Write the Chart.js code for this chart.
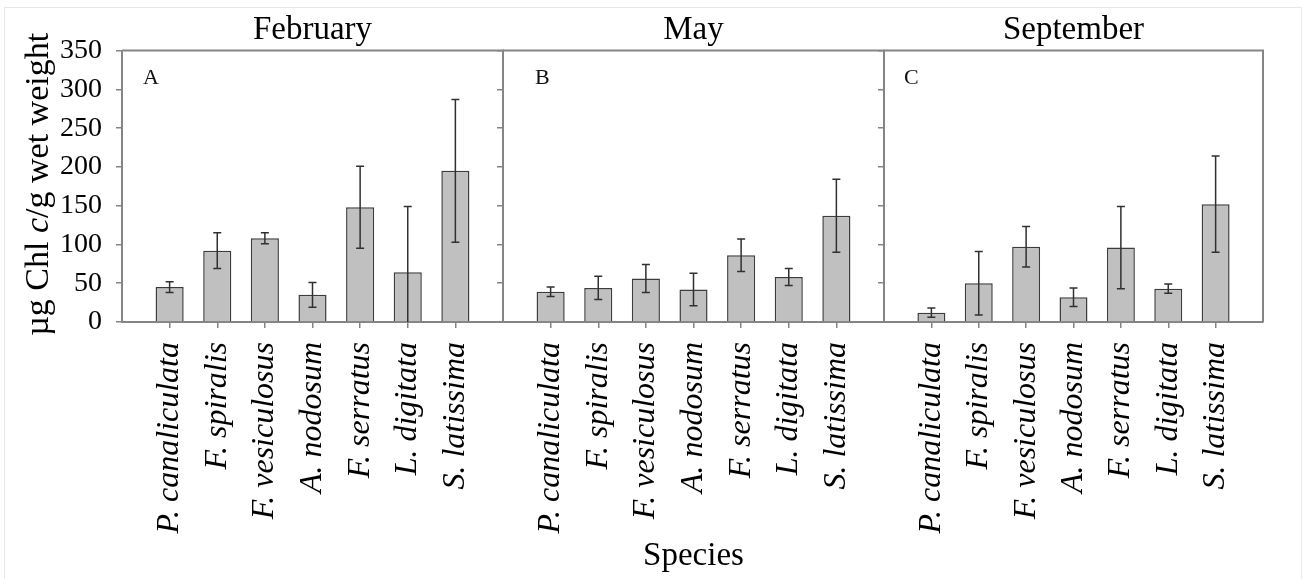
<!DOCTYPE html>
<html>
<head>
<meta charset="utf-8">
<script src="https://cdn.jsdelivr.net/npm/chart.js@4"></script>
<style>
  html, body { margin: 0; padding: 0; background: #fff; }
  #wrap { position: relative; width: 1303px; height: 579px; overflow: hidden; }
  #wrap canvas { position: absolute; left: 0; top: 0; }
  #frame { position: absolute; left: 4px; top: 7px; width: 1296px; height: 600px; border: 1px solid #e8e8e8; }
</style>
</head>
<body>
<div id="wrap">
  <div id="frame"></div>
  <canvas id="febChart" width="1303" height="579"></canvas>
  <canvas id="mayChart" width="1303" height="579"></canvas>
  <canvas id="sepChart" width="1303" height="579"></canvas>
</div>
<script>
// Chl c per species, three sampling months (mean ± sd)
const SPECIES = ['P. canaliculata', 'F. spiralis', 'F. vesiculosus', 'A. nodosum', 'F. serratus', 'L. digitata', 'S. latissima']

const FEB_MEAN = [45, 92, 108, 35, 148, 64, 195]
const FEB_SD = [7, 23, 7, 16, 53, 85, 92]

const MAY_MEAN = [39, 44, 56, 42, 86, 58, 137]
const MAY_SD = [6, 15, 18, 21, 21, 11, 47]

const SEP_MEAN = [12, 50, 97, 32, 96, 43, 152]
const SEP_SD = [6, 41, 26, 12, 53, 6, 62]

const Y_TICKS = [0, 50, 100, 150, 200, 250, 300, 350]

const SERIF = '"Liberation Serif", "Times New Roman", serif'
const AXIS = '#858585'
const BAR_FILL = '#c0c0c0'
const BAR_EDGE = '#3c3c3c'

// ── plugins ────────────────────────────────────────────────────────────────

const errorBars = {
  id: 'errorBars',
  afterDatasetsDraw(chart, args, opts) {
    const { ctx, chartArea } = chart
    const y = chart.scales.y
    const meta = chart.getDatasetMeta(0)
    ctx.save()
    ctx.strokeStyle = '#303030'
    ctx.lineWidth = 1.5
    opts.mean.forEach((m, i) => {
      const x = meta.data[i + 1].x
      const hi = y.getPixelForValue(m + opts.sd[i])
      const rawLo = y.getPixelForValue(m - opts.sd[i])
      const lo = Math.min(rawLo, chartArea.bottom)
      ctx.beginPath()
      ctx.moveTo(x, hi); ctx.lineTo(x, lo)
      ctx.moveTo(x - 4, hi); ctx.lineTo(x + 4, hi)
      if (rawLo <= chartArea.bottom) { ctx.moveTo(x - 4, lo); ctx.lineTo(x + 4, lo) }
      ctx.stroke()
    })
    ctx.restore()
  }
}

// top and right edges of each panel plus the panel letter
const panelFrame = {
  id: 'panelFrame',
  afterDraw(chart, args, opts) {
    const { ctx, chartArea: a } = chart
    ctx.save()
    ctx.strokeStyle = AXIS
    ctx.lineWidth = 2
    ctx.beginPath()
    ctx.moveTo(a.left, a.top); ctx.lineTo(a.right, a.top); ctx.lineTo(a.right, a.bottom)
    ctx.stroke()
    ctx.fillStyle = '#111'
    ctx.font = '22px ' + SERIF
    ctx.textBaseline = 'alphabetic'
    ctx.fillText(opts.letter, a.left + opts.dx, a.top + 33)
    ctx.restore()
  }
}

// rotated y title with an italic "c"
const yTitle = {
  id: 'yTitle',
  afterDraw(chart, args, opts) {
    if (!opts.parts) return
    const { ctx, chartArea: a } = chart
    const fonts = opts.parts.map(p => (p.italic ? 'italic ' : '') + '34px ' + SERIF)
    ctx.save()
    let total = 0
    const widths = opts.parts.map((p, i) => { ctx.font = fonts[i]; const w = ctx.measureText(p.text).width; total += w; return w })
    ctx.translate(48, (a.top + a.bottom) / 2 - 2)
    ctx.rotate(-Math.PI / 2)
    ctx.fillStyle = '#000'
    ctx.textBaseline = 'alphabetic'
    let x = -total / 2
    opts.parts.forEach((p, i) => {
      ctx.font = fonts[i]
      ctx.fillText(p.text, x, 0)
      x += widths[i]
    })
    ctx.restore()
  }
}

// ── panels ─────────────────────────────────────────────────────────────────

function makePanel(id, cfg) {
  const labels = ['', ...SPECIES, '']
  const edge = c => c.index === 0 || c.index === labels.length - 1
  return new Chart(document.getElementById(id), {
    type: 'bar',
    data: {
      labels,
      datasets: [{
        data: [null, ...cfg.mean, null],
        backgroundColor: BAR_FILL,
        borderColor: BAR_EDGE,
        borderWidth: 1.5,
        barPercentage: 0.59,
        categoryPercentage: 1,
      }]
    },
    plugins: [errorBars, panelFrame, yTitle],
    options: {
      responsive: false,
      animation: false,
      devicePixelRatio: 1,
      layout: { padding: { left: cfg.padLeft, right: cfg.padRight, top: 0, bottom: 0 } },
      plugins: {
        legend: { display: false },
        tooltip: { enabled: false },
        title: {
          display: true, text: cfg.month, fullSize: false, color: '#000',
          font: { family: SERIF, size: 33, weight: 'normal', lineHeight: 1.2 },
          padding: { top: 11, bottom: 0 },
        },
        errorBars: { mean: cfg.mean, sd: cfg.sd },
        panelFrame: { letter: cfg.letter, dx: cfg.letterDx },
        yTitle: { parts: cfg.yTitle },
      },
      scales: {
        x: {
          type: 'category',
          offset: false,
          grid: { offset: false, drawOnChartArea: false, tickLength: 6, lineWidth: 1.5, color: c => edge(c) ? 'rgba(0,0,0,0)' : AXIS },
          border: { color: AXIS, width: 2 },
          ticks: {
            autoSkip: false, minRotation: 90, maxRotation: 90, padding: 14, color: '#000',
            font: { family: SERIF, size: 32, style: 'italic' },
          },
          title: {
            display: !!cfg.xTitle, text: cfg.xTitle || '', color: '#000',
            font: { family: SERIF, size: 33 }, padding: { top: 0, bottom: 3 },
          },
          afterFit: s => { s.height = 257; s.paddingLeft = 0; s.paddingRight = 0 },
        },
        y: {
          min: 0, max: 350,
          afterBuildTicks: s => { s.ticks = Y_TICKS.map(v => ({ value: v })) },
          grid: { drawOnChartArea: false, tickLength: 6, lineWidth: 1.5, color: AXIS },
          border: { color: AXIS, width: 2 },
          ticks: {
            display: cfg.showYLabels, padding: 14, color: '#000',
            font: { family: SERIF, size: 28 },
          },
          afterFit: s => { s.width = cfg.axisWidth },
        },
      },
    },
  })
}

makePanel('febChart', {
  month: 'February', letter: 'A', letterDx: 21, mean: FEB_MEAN, sd: FEB_SD,
  padLeft: 0, axisWidth: 122, padRight: 1303 - 503, showYLabels: true,
  yTitle: [{ text: 'µg Chl ' }, { text: 'c', italic: true }, { text: '/g wet weight' }],
})
makePanel('mayChart', {
  month: 'May', letter: 'B', letterDx: 32, mean: MAY_MEAN, sd: MAY_SD,
  padLeft: 483, axisWidth: 20, padRight: 1303 - 884, showYLabels: false,
  xTitle: 'Species',
})
makePanel('sepChart', {
  month: 'September', letter: 'C', letterDx: 20, mean: SEP_MEAN, sd: SEP_SD,
  padLeft: 864, axisWidth: 20, padRight: 1303 - 1263, showYLabels: false,
})
</script>
</body>
</html>
